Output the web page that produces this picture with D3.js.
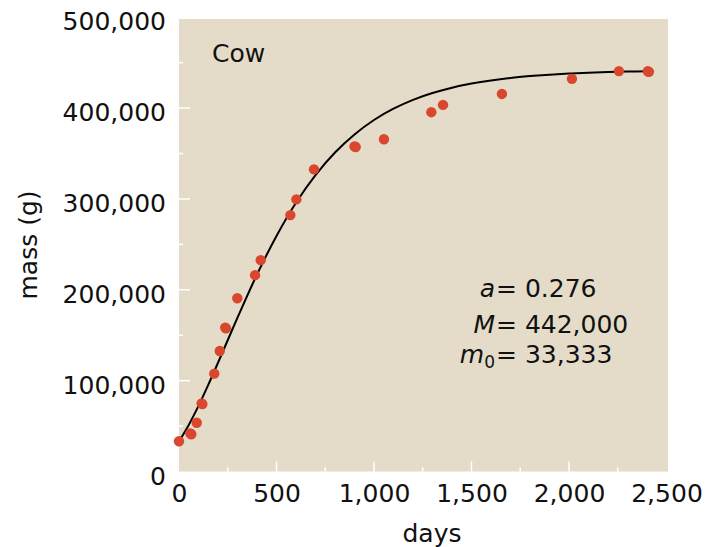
<!DOCTYPE html>
<html>
<head>
<meta charset="utf-8">
<script src="https://cdnjs.cloudflare.com/ajax/libs/d3/7.8.5/d3.min.js"></script>
<style>
  body { margin: 0; background: #fff; }
  text { font-family: "DejaVu Sans", sans-serif; fill: #111; }
</style>
</head>
<body>
<div id="chart"></div>
<script>
// measured points (days, grams) - a few overlap in pairs
var pointDays = [0, 58, 63, 91, 116, 120, 181, 209, 237, 241, 299, 390, 419, 571, 602, 692,
                 900, 906, 1051, 1294, 1354, 1656, 2015, 2256, 2404, 2410];
var pointMass = [33300, 42000, 41000, 53700, 75000, 74200, 107700, 132600, 158400, 157600, 190700,
                 216100, 232600, 282200, 299500, 332600, 357800, 357200, 365700, 395500, 403500,
                 415600, 432200, 440700, 440600, 439900];

// fitted growth curve
var curveDays = [0, 50, 100, 150, 200, 300, 400, 500, 600, 700, 800, 900, 1000, 1100, 1200,
                 1300, 1400, 1500, 1600, 1700, 1800, 1900, 2000, 2100, 2200, 2300, 2400];
var curveMass = [33300, 51300, 72200, 95300, 119700, 169300, 216800, 259300, 295800, 326200,
                 351100, 371000, 386900, 399300, 409100, 416600, 422500, 427000, 430500, 433200,
                 435200, 436800, 438000, 439000, 439700, 440200, 440600];

var xMajor = [0, 500, 1000, 1500, 2000, 2500];
var xMinor = [250, 750, 1250, 1750, 2250];
var yMajor = [0, 100000, 200000, 300000, 400000, 500000];
var yMinor = [50000, 150000, 250000, 350000, 450000];

var params = [
    {name: "a", sub: "", value: "0.276"},
    {name: "M", sub: "", value: "442,000"},
    {name: "m", sub: "0", value: "33,333"}
];

var svgWidth = 715, svgHeight = 547;
var plot = {left: 179, right: 668, top: 19, bottom: 471.5};

var svg = d3.select("#chart").append("svg")
    .attr("width", svgWidth)
    .attr("height", svgHeight);

var x = d3.scaleLinear().domain([0, 2500]).range([179, 666.5]);
var y = d3.scaleLinear().domain([0, 500000]).range([471.5, 17.25]);

// plot background
svg.append("rect")
    .attr("x", plot.left)
    .attr("y", plot.top)
    .attr("width", plot.right - plot.left)
    .attr("height", plot.bottom - plot.top)
    .attr("fill", "#e4dcc8");

// white inner ticks
var tickG = svg.append("g").attr("stroke", "#fff").attr("stroke-width", 1.5);
tickG.selectAll(".ym").data(yMajor.slice(1, 5)).enter().append("line")
    .attr("x1", plot.left).attr("x2", plot.left + 11)
    .attr("y1", d => y(d)).attr("y2", d => y(d));
tickG.selectAll(".yn").data(yMinor).enter().append("line")
    .attr("x1", plot.left).attr("x2", plot.left + 4)
    .attr("y1", d => y(d)).attr("y2", d => y(d));
tickG.selectAll(".xm").data(xMajor.slice(1, 5)).enter().append("line")
    .attr("x1", d => x(d)).attr("x2", d => x(d))
    .attr("y1", plot.bottom).attr("y2", plot.bottom - 10);
tickG.selectAll(".xn").data(xMinor).enter().append("line")
    .attr("x1", d => x(d)).attr("x2", d => x(d))
    .attr("y1", plot.bottom).attr("y2", plot.bottom - 4);

// axis labels
var yAxis = svg.append("g")
    .attr("transform", `translate(${plot.left},0)`)
    .call(d3.axisLeft(y).tickValues(yMajor).tickSize(0).tickPadding(13).tickFormat(d3.format(",")));
yAxis.select(".domain").remove();
yAxis.selectAll("text").attr("font-size", 25).attr("dy", "0.5em")
    .attr("font-family", "DejaVu Sans").attr("fill", "#111");

var xAxis = svg.append("g")
    .attr("transform", `translate(0,${plot.bottom})`)
    .call(d3.axisBottom(x).tickValues(xMajor).tickSize(0).tickPadding(12.5).tickFormat(d3.format(",")));
xAxis.select(".domain").remove();
xAxis.selectAll("text").attr("font-size", 25)
    .attr("font-family", "DejaVu Sans").attr("fill", "#111");

// curve
var line = d3.line()
    .x((d, i) => x(curveDays[i]))
    .y(d => y(d))
    .curve(d3.curveCatmullRom);

svg.append("path")
    .datum(curveMass)
    .attr("d", line)
    .attr("fill", "none")
    .attr("stroke", "#000")
    .attr("stroke-width", 2);

// data points
svg.selectAll("circle")
    .data(pointMass)
    .enter()
    .append("circle")
    .attr("cx", (d, i) => x(pointDays[i]))
    .attr("cy", d => y(d))
    .attr("r", 5.2)
    .attr("fill", "#d9472f");

// titles
svg.append("text")
    .attr("x", 432)
    .attr("y", 542)
    .attr("text-anchor", "middle")
    .attr("font-size", 25)
    .text("days");

svg.append("text")
    .attr("transform", "translate(37,245) rotate(-90)")
    .attr("text-anchor", "middle")
    .attr("font-size", 25)
    .text("mass (g)");

svg.append("text")
    .attr("x", 212)
    .attr("y", 61.7)
    .attr("font-size", 25)
    .text("Cow");

// parameters
var rowY = [297, 333, 363];
params.forEach(function(p, i) {
    var t = svg.append("text")
        .attr("x", 495)
        .attr("y", rowY[i])
        .attr("text-anchor", "end")
        .attr("font-size", 25);
    t.append("tspan").attr("font-style", "italic").text(p.name);
    if (p.sub) {
        t.append("tspan").attr("font-size", 17).attr("dy", 5).text(p.sub);
    }
    svg.append("text")
        .attr("x", 496)
        .attr("y", rowY[i])
        .attr("font-size", 25)
        .text("= " + p.value);
});
</script>
</body>
</html>
